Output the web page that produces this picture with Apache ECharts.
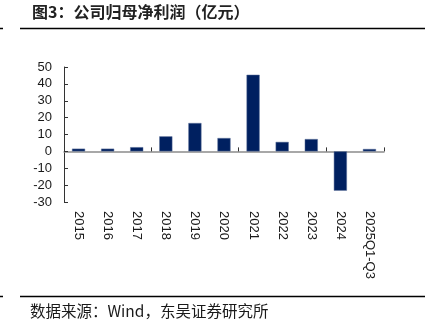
<!DOCTYPE html>
<html><head><meta charset="utf-8">
<script src="https://cdn.jsdelivr.net/npm/echarts@6/dist/echarts.min.js"></script>
<style>html,body{margin:0;padding:0;background:#fff}#c{width:429px;height:335px}</style>
</head><body><div id="c"></div>
<script>
const categories = ['2015','2016','2017','2018','2019','2020','2021','2022','2023','2024','2025Q1-Q3'];
const profit = [1.6, 1.6, 2.5, 8.9, 16.8, 7.9, 45.4, 5.6, 7.3, -23.3, 1.4];
const yTicks = {min: -30, max: 50, interval: 10};
const titleText = '图3：公司归母净利润（亿元）';
const sourceText = '数据来源：Wind，东吴证券研究所';

const chart = echarts.init(document.getElementById('c'), null, {renderer: 'canvas'});
chart.setOption({
  animation: false,
  backgroundColor: '#fff',
  grid: {left: 64, right: 45, top: 67, bottom: 133},
  graphic: [
    {type: 'text', left: 32, top: 4, style: {text: titleText, font: 'bold 16px "Noto Sans CJK SC"', fill: '#222'}},
    {type: 'line', shape: {x1: 20, y1: 28.5, x2: 425, y2: 28.5}, style: {stroke: '#000', lineWidth: 1.5}},
    {type: 'line', shape: {x1: 0, y1: 28.5, x2: 3, y2: 28.5}, style: {stroke: '#000', lineWidth: 1.5}},
    {type: 'line', shape: {x1: 20, y1: 296.5, x2: 425, y2: 296.5}, style: {stroke: '#000', lineWidth: 1.5}},
    {type: 'line', shape: {x1: 0, y1: 296.5, x2: 3, y2: 296.5}, style: {stroke: '#000', lineWidth: 1.5}},
    {type: 'text', left: 30, top: 303, style: {text: sourceText, font: '15.5px "Noto Sans CJK SC"', fill: '#1a1a1a'}}
  ],
  xAxis: [
    {type: 'category', data: categories, position: 'bottom',
     axisLine: {onZero: true, lineStyle: {color: '#8c8c8c', width: 1.5}},
     axisTick: {show: true, inside: true, length: 4, lineStyle: {color: '#333'}},
     axisLabel: {show: false}},
    {type: 'category', data: categories, position: 'bottom', gridIndex: 0,
     axisLine: {show: false, onZero: false}, axisTick: {show: false},
     axisLabel: {rotate: -90, margin: 9, fontSize: 13, color: '#1a1a1a', fontFamily: '"Liberation Sans", Arial', interval: 0}}
  ],
  yAxis: {type: 'value', min: yTicks.min, max: yTicks.max, interval: yTicks.interval,
    axisLine: {show: true, onZero: false, lineStyle: {color: '#333', width: 1}},
    axisTick: {show: true, inside: true, length: 4, lineStyle: {color: '#333'}},
    splitLine: {show: false},
    axisLabel: {margin: 12, fontSize: 13, color: '#1a1a1a', fontFamily: '"Liberation Sans", Arial'}},
  series: [{type: 'bar', data: profit, xAxisIndex: 0, barWidth: '45%',
    itemStyle: {color: '#002060', borderColor: '#5a6f99', borderWidth: 0.5}}]
});
</script></body></html>
